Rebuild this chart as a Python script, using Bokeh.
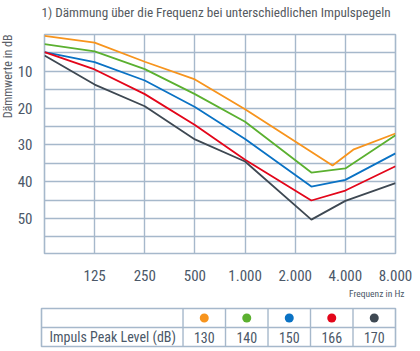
import math
from bokeh.plotting import figure
from bokeh.layouts import column, row
from bokeh.models import Range1d, FixedTicker, Title, ColumnDataSource
from bokeh.core.properties import value
from bokeh.embed import file_html
from bokeh.resources import INLINE

FONT = "Roboto Condensed, Liberation Sans Narrow, Roboto"
GRID = "#a6b8cb"
TXT = "#4b5868"

# ---- data ----
title_text = "1) Dämmung über die Frequenz bei unterschiedlichen Impulspegeln"
y_label = "Dämmwerte in dB"
x_label = "Frequenz in Hz"
row_label = "Impuls Peak Level (dB)"

peak_levels = ["130", "140", "150", "166", "170"]
colors = ["#f7941d", "#5bb030", "#0a72c4", "#e3061a", "#3e4852"]

freq_130 = [62.5, 125, 250, 500, 1000, 3350, 4500, 8000]
db_130 = [0.4, 2.2, 7.4, 12.2, 20.3, 35.6, 31.2, 26.9]

freq_std = [62.5, 125, 250, 500, 1000, 2500, 4000, 8000]
db_140 = [2.6, 4.6, 9.4, 16.2, 23.7, 37.5, 36.4, 27.4]
db_150 = [4.8, 7.5, 12.5, 19.7, 28.4, 41.3, 39.5, 32.3]
db_166 = [4.8, 9.5, 16.2, 24.6, 34.0, 45.1, 42.4, 35.8]
db_170 = [5.7, 13.6, 19.5, 28.5, 34.5, 50.3, 45.2, 40.4]

series_freqs = [freq_130, freq_std, freq_std, freq_std, freq_std]
series_db = [db_130, db_140, db_150, db_166, db_170]

x_ticks = [125, 250, 500, 1000, 2000, 4000, 8000]
x_tick_labels = ["125", "250", "500", "1.000", "2.000", "4.000", "8.000"]
y_ticks = [10, 20, 30, 40, 50]
y_grid = [5, 10, 15, 20, 25, 30, 35, 40, 45, 50, 55]

W, HEAD_H, CHART_H, TABLE_H, LAB_W = 420, 30, 270, 51, 14
LEFT, RIGHT = 41, 25

# ---- chart ----
p = figure(width=W - LAB_W, height=CHART_H, x_axis_type="log",
           x_range=Range1d(62.5, 8000), y_range=Range1d(59.5, 0),
           output_backend="svg", toolbar_location=None,
           min_border_left=LEFT - LAB_W, min_border_right=RIGHT,
           min_border_top=4, min_border_bottom=41)
p.background_fill_color = "white"
p.border_fill_color = "white"
p.outline_line_color = GRID
p.outline_line_width = 1.6

p.xaxis.ticker = FixedTicker(ticks=x_ticks)
p.xaxis.major_label_overrides = {t: l for t, l in zip(x_ticks, x_tick_labels)}
p.yaxis.ticker = FixedTicker(ticks=y_ticks)
p.ygrid.ticker = FixedTicker(ticks=y_grid)
p.xgrid.ticker = FixedTicker(ticks=x_ticks)
for ax in (p.xaxis, p.yaxis):
    ax.axis_line_color = None
    ax.major_tick_line_color = None
    ax.minor_tick_line_color = None
    ax.major_label_text_font = FONT
    ax.major_label_text_font_size = "15px"
    ax.major_label_text_color = TXT
p.yaxis.major_label_standoff = 6
p.xaxis.major_label_standoff = 10
p.grid.grid_line_color = GRID
p.grid.grid_line_width = 1.4

p.add_layout(Title(text=x_label, align="right", text_font=FONT,
                   text_font_size="9.5px", text_font_style="normal",
                   text_color=TXT, offset=-9, standoff=4), "below")

for fr, db, c in zip(series_freqs, series_db, colors):
    src = ColumnDataSource(dict(f=fr, d=db))
    p.line("f", "d", source=src, line_color=c, line_width=1.8)

# ---- heading (frame spans the same width as the chart frame) ----
head = figure(width=W, height=HEAD_H, x_range=Range1d(0, 1), y_range=Range1d(0, HEAD_H),
              output_backend="svg", toolbar_location=None,
              x_axis_location=None, y_axis_location=None,
              min_border_left=LEFT, min_border_right=RIGHT,
              min_border_top=0, min_border_bottom=0)
head.outline_line_color = None
head.grid.visible = False
head.text(x=[0], y=[HEAD_H - 12], text=[title_text], text_align="left",
          text_baseline="middle", text_font=value(FONT), text_font_size="13.2px",
          text_color="#555a60")

# ---- vertical caption, sharing the chart's y range ----
lab = figure(width=LAB_W, height=CHART_H, x_range=Range1d(0, LAB_W), y_range=p.y_range,
             output_backend="svg", toolbar_location=None,
             x_axis_location=None, y_axis_location=None,
             min_border_left=0, min_border_right=0,
             min_border_top=4, min_border_bottom=41)
lab.outline_line_color = None
lab.grid.visible = False
lab.text(x=[7.5], y=[0], text=[y_label], angle=math.pi / 2,
         text_align="right", text_baseline="middle", text_font=value(FONT),
         text_font_size="12px", text_color="#5a6068")

# ---- table ----
n = len(peak_levels)
label_w = 3.33
t = figure(width=W, height=TABLE_H, x_range=Range1d(-label_w, n), y_range=Range1d(0, 2),
           output_backend="svg", toolbar_location=None,
           x_axis_location=None, y_axis_location=None,
           min_border_left=LEFT, min_border_right=RIGHT, min_border_top=8, min_border_bottom=5)
t.outline_line_color = GRID
t.outline_line_width = 1.6
t.grid.visible = False

bounds = list(range(n))
t.segment(x0=bounds, y0=[0] * n, x1=bounds, y1=[2] * n, line_color=GRID, line_width=1.4)
t.segment(x0=[-label_w], y0=[1], x1=[n], y1=[1], line_color=GRID, line_width=1.4)

centers = [i + 0.5 for i in range(n)]
t.scatter(x=centers, y=[1.5] * n, size=9, fill_color=colors, line_color=None)
t.text(x=centers, y=[0.5] * n, text=peak_levels, text_align="center",
       text_baseline="middle", text_font=value(FONT), text_font_size="14px",
       text_color=TXT)
t.text(x=[-label_w], y=[0.5], text=[row_label], x_offset=8, text_align="left",
       text_baseline="middle", text_font=value(FONT), text_font_size="14px",
       text_color=TXT)

layout = column(head, row(lab, p, spacing=0), t, spacing=0)
open("out.html", "w").write(file_html(layout, INLINE))
